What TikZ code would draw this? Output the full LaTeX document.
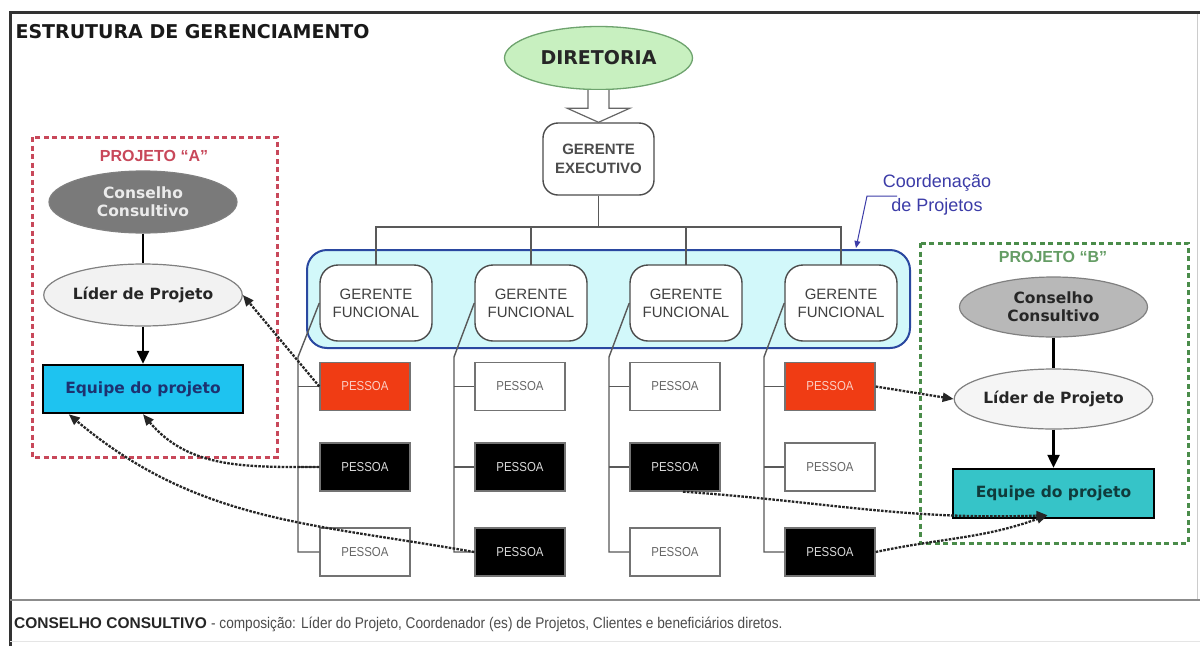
\documentclass[tikz,border=0pt]{standalone}
\usepackage{fontspec}
\setmainfont{Liberation Sans}
\newfontfamily\dv{DejaVu Sans}
\newfontfamily\nar[FakeStretch=0.88]{Liberation Sans}
\usetikzlibrary{shapes.geometric,arrows.meta,calc}
\definecolor{pred}{HTML}{F03C14}
\definecolor{cblue}{HTML}{2A48A0}
\definecolor{ccyan}{HTML}{D2F8FA}
\definecolor{dgreen}{HTML}{C8F0C0}
\definecolor{eqa}{HTML}{1EC3F0}
\definecolor{eqb}{HTML}{36C4C8}
\definecolor{pa}{HTML}{C8485A}
\definecolor{pb}{HTML}{4A8C4A}
\definecolor{coordc}{HTML}{3C3CA8}
\tikzset{
  gfbox/.style={draw=black!70, line width=1.4pt, fill=white, rounded corners=18pt,
    minimum width=112pt, minimum height=76pt, align=center, inner sep=2pt,
    font=\fontsize{15}{18}\selectfont, text=black!75},
  pessbox/.style={draw=black!55, line width=1.3pt, minimum width=90pt, minimum height=48pt,
    inner sep=0pt, font=\nar\fontsize{13}{15}\selectfont},
  pwhite/.style={pessbox, fill=white, text=black!60},
  pblack/.style={pessbox, fill=black, text=black!15},
  pred/.style={pessbox, fill=pred, text=pred!25},
  ellbox/.style={ellipse, draw=black!50, line width=1.2pt, minimum width=188pt,
    minimum height=62pt, inner sep=0pt, align=center,
    font=\dv\bfseries\fontsize{15.5}{18}\selectfont},
  eqbox/.style={draw=black, line width=2.5pt, minimum width=200pt, minimum height=48pt,
    inner sep=0pt, font=\dv\bfseries\fontsize{15.5}{18}\selectfont},
  treeline/.style={draw=black!65, line width=1.4pt},
  dotarrow/.style={dash pattern=on 2.6pt off 1.3pt, line width=2.3pt, black!85,
    -{Triangle[length=11pt,width=9pt]}},
  solidarrow/.style={line width=2.5pt, black, -{Triangle[length=13pt,width=12pt]}},
  projframe/.style={dash pattern=on 5pt off 3.5pt, line width=3pt}
}
\begin{document}
\begin{tikzpicture}[x=1pt,y=-1pt]
\useasboundingbox (0,0) rectangle (1200,646);
\fill[white] (0,0) rectangle (1200,646);
% frame
\draw[black!80, line width=3pt] (10,646) -- (10,12) -- (1200,12);
\draw[black!20, line width=1pt] (1197,14) -- (1197,600);
\draw[black!45, line width=2pt] (10,600) -- (1200,600);
\draw[black!10, line width=1pt] (10,641) -- (1200,641);
\node[anchor=base west, font=\dv\bfseries\fontsize{19}{22}\selectfont, text=black!90] (title) at (12,38) {ESTRUTURA DE GERENCIAMENTO};

% top hierarchy
\node[ellipse, draw=pb!80, line width=1.3pt, fill=dgreen, minimum width=188pt, minimum height=63pt,
  inner sep=0pt, font=\dv\bfseries\fontsize{19}{22}\selectfont, text=black!85] (dir) at (598.5,58) {DIRETORIA};
\node[draw=black!70, line width=1.4pt, fill=white, rounded corners=15pt, minimum width=111pt,
  minimum height=72pt, align=center, font=\bfseries\fontsize{15}{19}\selectfont, text=black!70] (exec) at (598.5,159) {GERENTE\\EXECUTIVO};
\draw[black!60, line width=1.2pt, fill=white]
  ($(dir.south)+(-10.5,0)$) -- ($(dir.south)+(-10.5,18)$) -- ($(dir.south)+(-31.5,18)$)
  -- (exec.north) -- ($(dir.south)+(31.5,18)$) -- ($(dir.south)+(10.5,18)$) -- ($(dir.south)+(10.5,0)$);

% coordination container
\node[draw=cblue, line width=2pt, fill=ccyan, rounded corners=20pt, minimum width=603pt,
  minimum height=98pt] (cont) at (608.5,299) {};

\coordinate (bus) at (598.5,227);
\foreach \i/\x in {1/376,2/531,3/686,4/841} {
  \coordinate (g\i) at (\x,303);
}
\draw[treeline] (exec.south) -- (bus);
\foreach \i in {1,2,3,4} { \draw[treeline] (bus) -| (g\i); }

\foreach \i in {1,2,3,4} {
  \node[gfbox] (gf\i) at (g\i) {GERENTE\\FUNCIONAL};
}

% coordination label
\node[align=center, font=\fontsize{18}{24}\selectfont, text=coordc] (coordlbl) at (937,195) {Coordenação\\de Projetos};
\coordinate (callA) at (897,196);
\coordinate (callB) at (867,196);
\coordinate (callC) at ($(cont.north east)+(-55,-1)$);
\draw[coordc, line width=1pt, -{Triangle[length=7pt,width=6pt]}] (callA) -- (callB) -- (callC);

% PESSOA boxes
\node[pred]   (p11) at (365,386.5) {PESSOA};
\node[pblack] (p12) at (365,467)   {PESSOA};
\node[pwhite] (p13) at (365,552)   {PESSOA};
\node[pwhite] (p21) at (520,386.5) {PESSOA};
\node[pblack] (p22) at (520,467)   {PESSOA};
\node[pblack] (p23) at (520,552)   {PESSOA};
\node[pwhite] (p31) at (675,386.5) {PESSOA};
\node[pblack] (p32) at (675,467)   {PESSOA};
\node[pwhite] (p33) at (675,552)   {PESSOA};
\node[pred]   (p41) at (830,386.5) {PESSOA};
\node[pwhite] (p42) at (830,467)   {PESSOA};
\node[pblack] (p43) at (830,552)   {PESSOA};

% spines
\foreach \i/\x in {1/298,2/454,3/609,4/764} {
  \coordinate (s\i) at (\x,357);
  \draw[treeline] (gf\i.west) -- (s\i) |- (p\i3.west);
  \draw[treeline] (s\i |- p\i1.west) -- (p\i1.west);
  \draw[treeline] (s\i |- p\i2.west) -- (p\i2.west);
}

% Projeto A
\draw[projframe, pa] (32,137) rectangle (277,457);
\node[font=\bfseries\fontsize{16}{18}\selectfont, text=pa] (labA) at (154,156) {PROJETO “A”};
\node[ellbox, fill=black!52, text=black!8] (consA) at (143,202) {Conselho\\Consultivo};
\node[ellbox, fill=black!5, text=black!85] (liderA) at (143,295) {Líder de Projeto};
\node[eqbox, fill=eqa, text=cblue!70!black] (eqA) at (143,389) {Equipe do projeto};
\draw[line width=2.5pt] (consA) -- (liderA);
\draw[solidarrow] (liderA) -- (eqA);

% Projeto B
\draw[projframe, pb] (920,243) rectangle (1188,543);
\node[font=\bfseries\fontsize{16}{18}\selectfont, text=pb!85] (labB) at (1053,257) {PROJETO “B”};
\node[ellbox, fill=black!28, text=black!85, minimum height=60pt] (consB) at (1053.5,307) {Conselho\\Consultivo};
\node[ellbox, fill=black!4, text=black!85, minimum height=60pt] (liderB) at (1053.5,399) {Líder de Projeto};
\node[eqbox, fill=eqb, text=black!70!eqb, minimum width=201pt, minimum height=49pt] (eqB) at (1053.5,493.5) {Equipe do projeto};
\draw[line width=2.5pt] (consB) -- (liderB);
\draw[solidarrow] (liderB) -- (eqB);

% dotted assignments
\coordinate (eaL) at ($(eqA.south west)+(27,0)$);
\coordinate (eaM) at (eqA.south);
\coordinate (ebT) at ($(eqB.south)+(-6,-4)$);
\coordinate (c5) at ($(p32.south)+(8,0)$);
\draw[dotarrow] (p11.west) -- (liderA.east);
\draw[dotarrow] (p12.west) to[out=180,in=-50] (eaM);
\draw[dotarrow] (p23.west) to[out=170,in=-40] (eaL);
\draw[dotarrow] (p41.east) -- (liderB.west);
\draw[dotarrow] (c5) to[out=-4,in=182] (ebT);
\draw[dotarrow] (p43.east) to[out=12,in=200] (ebT);

% footer
\node[anchor=base west, font=\fontsize{15.5}{18}\selectfont, text=black!85, inner sep=0pt] (foot) at (14,628)
  {\bfseries CONSELHO CONSULTIVO \mdseries\color{black!70}\nar - composição: Líder do Projeto, Coordenador (es) de Projetos, Clientes e beneficiários diretos.};
\end{tikzpicture}
\end{document}
